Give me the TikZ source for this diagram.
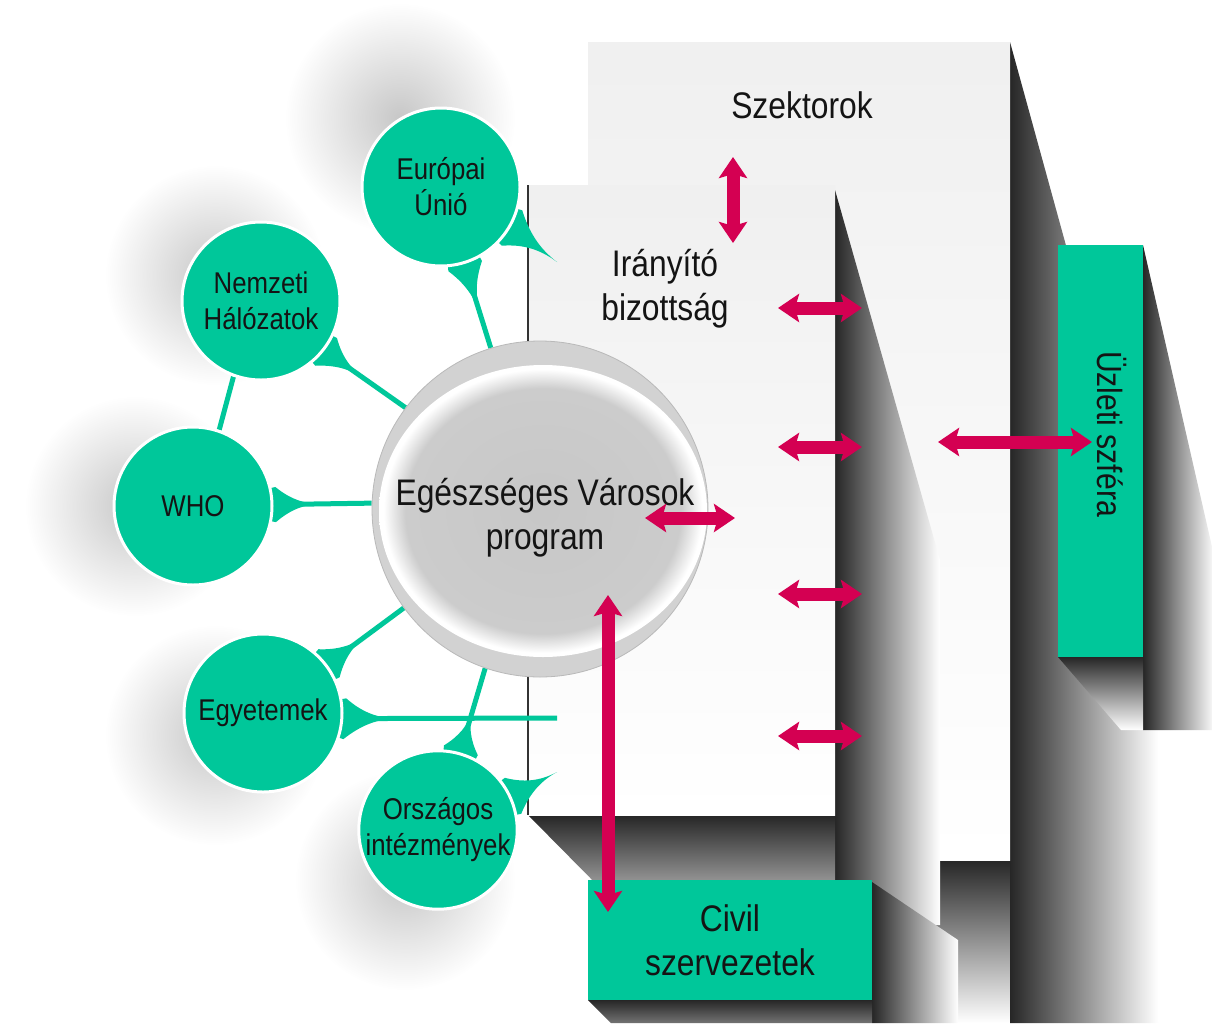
\documentclass[tikz,border=0pt]{standalone}
\usepackage{fontspec}
\setmainfont{Liberation Sans}[FakeStretch=0.86]
\usetikzlibrary{calc,arrows.meta,fadings}
\definecolor{tealc}{RGB}{0,199,154}
\definecolor{pinkc}{RGB}{212,0,82}
\tikzfading[name=softglow, inner color=transparent!0, outer color=transparent!100]
\pgfdeclareradialshading{lens}{\pgfpoint{0bp}{0bp}}{color(0bp)=(gray!44); color(21bp)=(gray!40); color(24.3bp)=(white); color(25bp)=(white); color(50bp)=(white)}
\pgfdeclarelayer{back}
\pgfdeclarelayer{mid}
\pgfsetlayers{back,mid,main}
% #1 node, #2 and #3 base angles, #4 tip
\newcommand\flare[4]{%
 \coordinate (fA) at ($(#1.center)!1.05!(#1.#2)$);
 \coordinate (fB) at ($(#1.center)!1.05!(#1.#3)$);
 \coordinate (fM) at ($(fA)!0.5!(fB)$);
 \fill[tealc] (fA) .. controls ($(fA)!0.45!(#4)!0.35!(fM)$) and ($(fM)!0.6!(#4)$) .. (#4)
   .. controls ($(fM)!0.6!(#4)$) and ($(fB)!0.45!(#4)!0.35!(fM)$) .. (fB) -- (#1.center) -- cycle;}
\begin{document}
\begin{tikzpicture}[x=1pt,y=-1pt,
 tealcirc/.style={circle, fill=tealc, draw=white, line width=3pt, minimum size=158pt, inner sep=0pt, align=center, font=\fontsize{30}{36}\selectfont, text=black!92},
 bigtext/.style={align=center, font=\fontsize{37}{44}\selectfont, text=black!92},
 conn/.style={draw=tealc, line width=5pt},
 pinkarr/.style={draw=pinkc, line width=13pt, arrows={Stealth[length=21pt,width=28pt,inset=4pt]-Stealth[length=21pt,width=28pt,inset=4pt]}},
 darkleft/.style={left color=black!85, right color=white},
 darktop/.style={top color=black!85, bottom color=white},
 halo/.style={fill=black, opacity=0.22, path fading=softglow},
 panelfill/.style={top color=gray!12, bottom color=white},
]
\useasboundingbox (0,0) rectangle (1212,1023);
\begin{pgfonlayer}{back}
\fill[white] (0,0) rectangle (1212,1023);
% halos
\fill[halo] (400,118) circle[radius=115];
\fill[halo] (215,275) circle[radius=110];
\fill[halo] (135,506) circle[radius=110];
\fill[halo] (215,735) circle[radius=110];
\fill[halo] (405,880) circle[radius=110];
% back panel shadows and panel
\shade[darktop] (700,860) -- (1010,860) -- (1158,1023) -- (700,1023) -- cycle;
\shade[darkleft] (1010,42) -- (1158,580) -- (1158,1023) -- (1010,1023) -- cycle;
\shade[panelfill] (588,42) rectangle (1010,860);
% front panel shadows and panel
\shade[darkleft] (835,190) -- (940,560) -- (940,925) -- (835,925) -- cycle;
\shade[top color=black!85, bottom color=black!30] (528,815) -- (612,900) -- (835,900) -- (835,815) -- cycle;
\shade[panelfill] (528,185) rectangle (835,815);
\draw[black!80, line width=1.2pt] (528,185) -- (528,815);
% Uzleti box
\shade[darkleft] (1143,245) -- (1215,560) -- (1215,730) -- (1143,730) -- cycle;
\shade[darktop] (1058,657) -- (1121,730) -- (1143,730) -- (1143,657) -- cycle;
\node[fill=tealc, minimum width=85pt, minimum height=412pt, inner sep=0pt] (uzbox) at (1100.5,451) {};
% Civil box
\shade[darkleft] (872,882) -- (958,940) -- (958,1023) -- (872,1023) -- cycle;
\shade[top color=black!85, bottom color=black!55] (588,1000) -- (611,1023) -- (872,1023) -- (872,1000) -- cycle;
\node[fill=tealc, minimum width=284pt, minimum height=120pt, inner sep=0pt, bigtext] (civil) at (730,940) {Civil\\szervezetek};
\end{pgfonlayer}
% teal circles
\node[tealcirc] (eu) at (441,187) {Európai\\Únió};
\node[tealcirc] (nh) at (261,301) {Nemzeti\\Hálózatok};
\node[tealcirc] (who) at (193,506) {WHO};
\node[tealcirc] (egy) at (263,713) {Egyetemek};
\node[tealcirc] (oi) at (438,830) {Országos\\intézmények};
% central circle
\node[circle, minimum size=336pt, inner sep=0pt, fill=gray!35, draw=gray!55, line width=0.8pt] (cen) at (540,509) {};
\shade[shading=lens] (543,511) ellipse[x radius=164, y radius=146];
\node[bigtext] (centxt) at (545,518) {Egészséges Városok\\program};
% connectors
\begin{pgfonlayer}{mid}
\draw[conn] (eu.-73) -- (cen.107);
\coordinate (t1) at ($(eu.-73)!55pt!(cen.107)$);
\flare{eu}{-85}{-61}{t1}
\coordinate (euend) at (557,262);
\flare{eu}{-44}{-16}{euend}
\draw[conn] (nh.-38) -- (cen.143);
\coordinate (t3) at ($(nh.-38)!50pt!(cen.143)$);
\flare{nh}{-50}{-26}{t3}
\draw[conn] (nh.-110) -- (who.71);
\draw[conn] (who.1) -- (cen.178);
\coordinate (t5) at ($(who.1)!48pt!(cen.178)$);
\flare{who}{13}{-11}{t5}
\draw[conn] (egy.37) -- (cen.216);
\coordinate (t6) at ($(egy.37)!50pt!(cen.216)$);
\flare{egy}{49}{25}{t6}
\coordinate (egyend) at (557,718);
\draw[conn] (egy.-4) -- (egyend);
\coordinate (t7) at ($(egy.-4)!55pt!(egyend)$);
\flare{egy}{10}{-18}{t7}
\draw[conn] (oi.74) -- (cen.-109);
\coordinate (t8) at ($(oi.74)!45pt!(cen.-109)$);
\flare{oi}{86}{62}{t8}
\coordinate (oiend) at (557,772);
\flare{oi}{38}{11}{oiend}
\end{pgfonlayer}
% labels
\node[bigtext] (szek) at (802,105) {Szektorok};
\node[bigtext] (iran) at (665,289) {Irányító\\bizottság};
\node[bigtext, font=\fontsize{35}{42}\selectfont, rotate=-90] (uztxt) at (1112,434) {Üzleti szféra};
% pink arrows
\coordinate (v1a) at (733,157); \coordinate (v1b) at (733,243);
\draw[pinkarr] (v1a) -- (v1b);
\foreach \yy [count=\i] in {308,447,594,736}{
  \coordinate (ha\i) at (778,\yy); \coordinate (hb\i) at (862,\yy);
  \draw[pinkarr] (ha\i) -- (hb\i);
}
\coordinate (uza) at (938,442); \coordinate (uzb) at (1092,442);
\draw[pinkarr] (uza) -- (uzb);
\coordinate (cea) at (645,518); \coordinate (ceb) at (735,518);
\draw[pinkarr] (cea) -- (ceb);
\coordinate (cva) at (608,595); \coordinate (cvb) at (608,912);
\draw[pinkarr] (cva) -- (cvb);
\end{tikzpicture}
\end{document}
